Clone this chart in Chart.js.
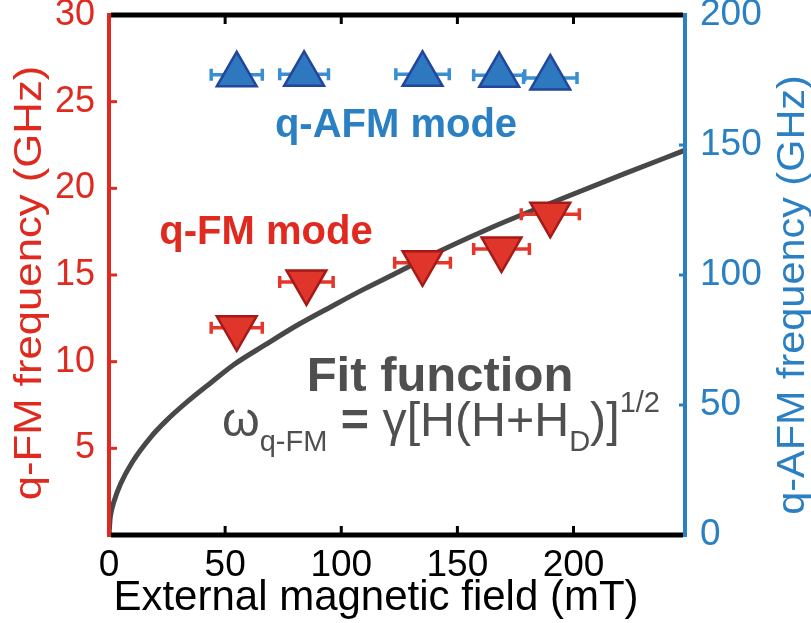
<!DOCTYPE html>
<html>
<head>
<meta charset="utf-8">
<script src="https://cdn.jsdelivr.net/npm/chart.js@4.4.1/dist/chart.umd.min.js"></script>
<style>
  html, body { margin: 0; padding: 0; background: #ffffff; }
  #wrap { width: 811px; height: 623px; }
</style>
</head>
<body>
<div id="wrap"><canvas id="c"></canvas></div>
<script>
// Tick labels
const fieldTicks = [0, 50, 100, 150, 200];
const fmTicks = [5, 10, 15, 20, 25, 30];
const afmTicks = [0, 50, 100, 150, 200];

// q-FM mode (left axis, GHz)
const fmField = [55, 85, 135, 169, 190];
const fmFreq = [11.95, 14.6, 15.7, 16.5, 18.5];
const fmFieldErr = [11, 11.5, 12, 12, 12.5];

// q-AFM mode (right axis, GHz)
const afmField = [55, 84, 135, 168, 190];
const afmFreq = [177, 177.2, 177.2, 176.8, 175.8];
const afmFieldErr = [11, 10.5, 11.5, 11, 11.5];

// Fitted q-FM curve
const fitField = [0, 0.5, 1, 2, 5, 10, 18, 25, 34, 44, 54, 67, 81, 96, 110, 125, 135, 164, 193, 222, 248];
const fitFreq = [0, 0.95, 1.35, 1.87, 2.95, 4.2, 5.65, 6.64, 7.72, 8.8, 9.85, 10.95, 12.1, 13.2, 14.2, 15.2, 15.9, 17.7, 19.3, 20.85, 22.2];

const FONT = "'Liberation Sans', Arial, Helvetica, sans-serif";
const RED = '#e0291f';
const BLUE = '#2a80c2';
const GRAY = '#4f4f4f';

function pairs(xs, ys) { return xs.map((x, i) => ({ x: x, y: ys[i] })); }

function fixTicks(values) {
  return function (scale) { scale.ticks = values.map(v => ({ value: v })); };
}
function fixSize(prop, size) {
  return function (scale) {
    scale[prop] = size;
    scale.paddingTop = 0; scale.paddingBottom = 0;
    scale.paddingLeft = 0; scale.paddingRight = 0;
  };
}

// text drawn along a direction, stretched by sx along that direction
function stretchedText(ctx, text, x, y, angle, sx) {
  ctx.save();
  ctx.translate(x, y);
  ctx.rotate(angle);
  ctx.scale(sx, 1);
  ctx.fillText(text, 0, 0);
  ctx.restore();
}

const decorations = {
  id: 'decorations',
  beforeDatasetDraw(chart, args) {
    const ds = chart.data.datasets[args.index];
    if (!ds.errX) return;
    const ctx = chart.ctx;
    const xs = chart.scales.x;
    const ys = chart.scales[ds.yAxisID];
    ctx.save();
    ctx.strokeStyle = ds.errColor;
    ctx.lineWidth = 3.5;
    ctx.lineCap = 'butt';
    ds.data.forEach((p, i) => {
      const y = ys.getPixelForValue(p.y);
      const x0 = xs.getPixelForValue(p.x - ds.errX[i]);
      const x1 = xs.getPixelForValue(p.x + ds.errX[i]);
      ctx.beginPath();
      ctx.moveTo(x0, y); ctx.lineTo(x1, y);
      ctx.moveTo(x0, y - 6); ctx.lineTo(x0, y + 6);
      ctx.moveTo(x1, y - 6); ctx.lineTo(x1, y + 6);
      ctx.stroke();
    });
    ctx.restore();
  },
  afterDatasetsDraw(chart) {
    const ctx = chart.ctx;
    const a = chart.chartArea;
    const xs = chart.scales.x, yl = chart.scales.yL, yr = chart.scales.yR;
    ctx.save();
    ctx.lineCap = 'butt';
    // left (red) and right (blue) axis lines with inward ticks
    ctx.strokeStyle = RED; ctx.lineWidth = 4;
    ctx.beginPath(); ctx.moveTo(a.left, a.top - 2); ctx.lineTo(a.left, a.bottom + 2); ctx.stroke();
    ctx.lineWidth = 3;
    fmTicks.forEach(v => {
      if (v <= 0 || v >= 30) return;
      const y = yl.getPixelForValue(v);
      ctx.beginPath(); ctx.moveTo(a.left, y); ctx.lineTo(a.left + 8, y); ctx.stroke();
    });
    ctx.strokeStyle = BLUE; ctx.lineWidth = 4;
    ctx.beginPath(); ctx.moveTo(a.right, a.top - 2); ctx.lineTo(a.right, a.bottom + 2); ctx.stroke();
    ctx.lineWidth = 3;
    afmTicks.forEach(v => {
      if (v <= 0 || v >= 200) return;
      const y = yr.getPixelForValue(v);
      ctx.beginPath(); ctx.moveTo(a.right, y); ctx.lineTo(a.right - 6, y); ctx.stroke();
    });
    // top and bottom (black) axis lines with inward ticks
    ctx.strokeStyle = '#000000'; ctx.lineWidth = 5;
    ctx.beginPath(); ctx.moveTo(a.left + 2, a.top); ctx.lineTo(a.right - 2, a.top); ctx.stroke();
    ctx.beginPath(); ctx.moveTo(a.left + 2, a.bottom); ctx.lineTo(a.right - 2, a.bottom); ctx.stroke();
    ctx.lineWidth = 3;
    fieldTicks.forEach(v => {
      if (v <= 0) return;
      const x = xs.getPixelForValue(v);
      ctx.beginPath(); ctx.moveTo(x, a.bottom); ctx.lineTo(x, a.bottom - 9); ctx.stroke();
      ctx.beginPath(); ctx.moveTo(x, a.top); ctx.lineTo(x, a.top + 9); ctx.stroke();
    });
    ctx.restore();
  },
  afterDraw(chart) {
    const ctx = chart.ctx;
    ctx.save();
    // axis titles
    ctx.textAlign = 'center';
    ctx.textBaseline = 'middle';
    ctx.font = '38px ' + FONT;
    ctx.fillStyle = RED;
    stretchedText(ctx, 'q-FM frequency (GHz)', 31, 283, -Math.PI / 2, 1.15);
    ctx.fillStyle = BLUE;
    stretchedText(ctx, 'q-AFM frequency (GHz)', 794, 295, -Math.PI / 2, 1.09);
    ctx.textBaseline = 'alphabetic';
    ctx.font = '42px ' + FONT;
    ctx.fillStyle = '#000000';
    ctx.fillText('External magnetic field (mT)', 376, 610);

    // mode labels
    ctx.font = 'bold 40px ' + FONT;
    ctx.fillStyle = BLUE;
    ctx.fillText('q-AFM mode', 396, 137);
    ctx.fillStyle = RED;
    ctx.fillText('q-FM mode', 266, 244);
    ctx.font = 'bold 49px ' + FONT;
    ctx.fillStyle = GRAY;
    ctx.fillText('Fit function', 440, 391);

    // fit formula
    const size = 42;
    const parts = [
      { t: '\u03C9', s: 1, dy: 0 },
      { t: 'q-FM', s: 0.6, dy: 0.3 },
      { t: ' = ', s: 1, dy: 0, b: true },
      { t: '\u03B3[H(H+H', s: 1, dy: 0 },
      { t: 'D', s: 0.6, dy: 0.3 },
      { t: ')]', s: 1, dy: 0 },
      { t: '1/2', s: 0.6, dy: -0.5 }
    ];
    const fontFor = (p, k) => (p.b ? 'bold ' : '') + (size * k * p.s) + 'px ' + FONT;
    let w = 0;
    parts.forEach(p => { ctx.font = fontFor(p, 1); w += ctx.measureText(p.t).width; });
    const k = 438 / w;
    let x = 222;
    const base = 436;
    ctx.textAlign = 'left';
    parts.forEach(p => {
      ctx.font = fontFor(p, k);
      ctx.fillText(p.t, x, base + p.dy * size * k);
      x += ctx.measureText(p.t).width;
    });
    ctx.restore();
  }
};

new Chart(document.getElementById('c'), {
  type: 'scatter',
  data: {
    datasets: [
      {
        type: 'line',
        label: 'fit',
        data: pairs(fitField, fitFreq),
        yAxisID: 'yL',
        borderColor: '#484848',
        borderWidth: 5,
        pointRadius: 0,
        fill: false,
        cubicInterpolationMode: 'monotone',
        order: 3
      },
      {
        label: 'q-FM mode',
        data: pairs(fmField, fmFreq),
        yAxisID: 'yL',
        errX: fmFieldErr,
        errColor: '#e5362b',
        pointStyle: 'triangle',
        rotation: 180,
        pointRadius: 23,
        pointBackgroundColor: '#e0352a',
        pointBorderColor: '#a51a17',
        pointBorderWidth: 2.5,
        order: 2
      },
      {
        label: 'q-AFM mode',
        data: pairs(afmField, afmFreq),
        yAxisID: 'yR',
        errX: afmFieldErr,
        errColor: '#3a8fd0',
        pointStyle: 'triangle',
        pointRadius: 23,
        pointBackgroundColor: '#2d78be',
        pointBorderColor: '#22469c',
        pointBorderWidth: 2.5,
        order: 1
      }
    ]
  },
  options: {
    responsive: true,
    maintainAspectRatio: false,
    animation: false,
    layout: { autoPadding: false, padding: { top: 15, left: 0, right: 0, bottom: 0 } },
    plugins: { legend: { display: false }, tooltip: { enabled: false } },
    scales: {
      x: {
        type: 'linear', position: 'bottom', min: 0, max: 248,
        grid: { display: false }, border: { display: false },
        afterBuildTicks: fixTicks(fieldTicks),
        afterFit: fixSize('height', 88),
        ticks: { color: '#000000', font: { family: FONT, size: 37 }, padding: 1, maxRotation: 0, autoSkip: false }
      },
      yL: {
        type: 'linear', position: 'left', min: 0, max: 30,
        grid: { display: false }, border: { display: false },
        afterBuildTicks: fixTicks(fmTicks),
        afterFit: fixSize('width', 109),
        ticks: { color: RED, font: { family: FONT, size: 36 }, padding: 6, autoSkip: false }
      },
      yR: {
        type: 'linear', position: 'right', min: 0, max: 200,
        grid: { display: false }, border: { display: false },
        afterBuildTicks: fixTicks(afmTicks),
        afterFit: fixSize('width', 126),
        ticks: { color: BLUE, font: { family: FONT, size: 37 }, padding: 7, autoSkip: false }
      }
    }
  },
  plugins: [decorations]
});
</script>
</body>
</html>
